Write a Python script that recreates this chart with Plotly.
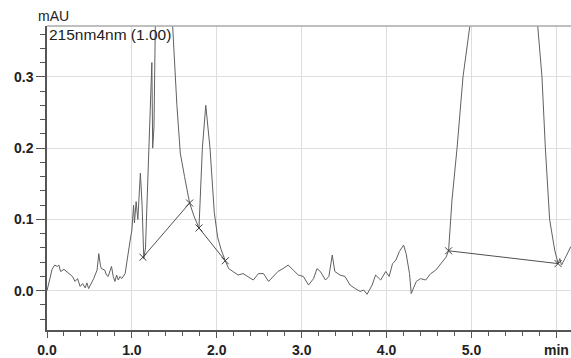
import plotly.graph_objects as go

# Chromatogram trace (minutes, mAU)
time_min = [
    0.00, 0.035, 0.06, 0.09, 0.12, 0.14, 0.16, 0.20, 0.24, 0.27, 0.30, 0.33, 0.36, 0.39,
    0.42, 0.45, 0.47, 0.49, 0.52, 0.55, 0.59, 0.61, 0.63, 0.64, 0.68, 0.70, 0.72, 0.74,
    0.76, 0.78, 0.80, 0.82, 0.84, 0.86, 0.88, 0.92, 0.94, 0.96, 0.98, 1.00, 1.02, 1.03,
    1.05, 1.07, 1.09, 1.10, 1.12, 1.14, 1.16, 1.20, 1.235, 1.245, 1.26, 1.29, 1.38, 1.46,
    1.48, 1.53, 1.57, 1.62, 1.68, 1.73, 1.79, 1.83, 1.87, 1.92, 1.97, 2.01, 2.05, 2.10,
    2.14, 2.19, 2.25, 2.31, 2.37, 2.43, 2.49, 2.55, 2.61, 2.67, 2.72, 2.78, 2.84, 2.90,
    2.96, 3.02, 3.08, 3.14, 3.18, 3.22, 3.28, 3.32, 3.36, 3.39, 3.45, 3.51, 3.57, 3.63,
    3.69, 3.73, 3.77, 3.83, 3.87, 3.93, 3.99, 4.03, 4.07, 4.11, 4.15, 4.20, 4.23, 4.27,
    4.29, 4.35, 4.40, 4.46, 4.52, 4.58, 4.64, 4.70, 4.73, 4.77, 4.83, 4.90, 4.98, 5.38,
    5.78, 5.83, 5.87, 5.92, 5.98, 6.02, 6.04, 6.06, 6.10, 6.14, 6.17,
]
absorbance = [
    0.000, 0.020, 0.030, 0.036, 0.034, 0.036, 0.027, 0.030, 0.026, 0.024, 0.020, 0.013, 0.017, 0.006,
    0.010, 0.004, 0.011, 0.003, 0.010, 0.017, 0.029, 0.052, 0.035, 0.031, 0.029, 0.022, 0.020, 0.028,
    0.034, 0.020, 0.013, 0.022, 0.015, 0.020, 0.017, 0.024, 0.041, 0.060, 0.071, 0.085, 0.120, 0.095,
    0.125, 0.100, 0.150, 0.165, 0.120, 0.045, 0.060, 0.200, 0.320, 0.200, 0.230, 0.500, 0.950, 0.500,
    0.371, 0.260, 0.193, 0.160, 0.123, 0.105, 0.088, 0.200, 0.260, 0.200, 0.110, 0.075, 0.058, 0.042,
    0.031, 0.027, 0.022, 0.024, 0.020, 0.015, 0.024, 0.024, 0.013, 0.020, 0.027, 0.031, 0.036, 0.029,
    0.022, 0.020, 0.008, 0.017, 0.031, 0.027, 0.015, 0.020, 0.050, 0.027, 0.022, 0.020, 0.008, 0.003,
    -0.001, 0.001, -0.005, 0.008, 0.022, 0.015, 0.027, 0.020, 0.038, 0.043, 0.055, 0.064, 0.052, 0.024,
    -0.004, 0.013, 0.017, 0.015, 0.024, 0.029, 0.038, 0.047, 0.056, 0.127, 0.200, 0.300, 0.371, 1.200,
    0.371, 0.300, 0.200, 0.100, 0.057, 0.038, 0.045, 0.036, 0.045, 0.055, 0.062,
]

# Integration baselines (start/end pairs)
baseline_start_t = [1.13, 1.79, 4.73]
baseline_start_a = [0.047, 0.088, 0.056]
baseline_end_t = [1.68, 2.10, 6.02]
baseline_end_a = [0.123, 0.042, 0.038]

x_tick_vals = [0, 1, 2, 3, 4, 5, 6]
x_tick_text = ["0.0", "1.0", "2.0", "3.0", "4.0", "5.0", "min"]
y_tick_vals = [0.0, 0.1, 0.2, 0.3]
y_tick_text = ["0.0", "0.1", "0.2", "0.3"]

y_unit = "mAU"
channel_label = "215nm4nm (1.00)"

bx, by = [], []
for t0, a0, t1, a1 in zip(baseline_start_t, baseline_start_a, baseline_end_t, baseline_end_a):
    bx += [t0, t1, None]
    by += [a0, a1, None]

FONT = "Liberation Sans, Arial, sans-serif"

fig = go.Figure()
fig.add_trace(go.Scatter(x=time_min, y=absorbance, mode="lines",
                         line=dict(color="#606060", width=1), hoverinfo="skip"))
fig.add_trace(go.Scatter(x=bx, y=by, mode="lines+markers",
                         line=dict(color="#505050", width=1),
                         marker=dict(symbol="x-thin", size=7, line=dict(width=1, color="#404040")),
                         hoverinfo="skip"))

axis_common = dict(showline=True, linecolor="#555", linewidth=1.5, ticks="outside",
                   tickwidth=1, tickcolor="#555", showgrid=True,
                   gridcolor="#dedede", gridwidth=1, zeroline=False, automargin=False,
                   tickfont=dict(family=FONT, size=14, color="#222", weight="bold"))

fig.update_xaxes(range=[0, 6.172], tickvals=x_tick_vals, ticktext=x_tick_text, ticklen=6,
                 minor=dict(dtick=0.2, tick0=0, ticks="outside", ticklen=4, tickcolor="#555", showgrid=False),
                 **axis_common)
fig.update_yaxes(range=[-0.0551, 0.3713], tickvals=y_tick_vals, ticktext=y_tick_text, ticklen=9,
                 minor=dict(dtick=0.02, tick0=0, ticks="outside", ticklen=5, tickcolor="#555", showgrid=False),
                 **axis_common)

fig.add_shape(type="line", xref="paper", yref="paper", x0=0, x1=1, y0=1, y1=1,
              line=dict(color="#aaaaaa", width=1.5))

fig.add_annotation(text=y_unit, xref="paper", yref="paper", x=-0.021, y=1.0, yshift=0,
                   xanchor="left", yanchor="bottom", showarrow=False,
                   font=dict(family=FONT, size=14, color="#222"))
fig.add_annotation(text=channel_label, xref="paper", yref="paper", x=0.0, y=1.0, yshift=2,
                   xanchor="left", yanchor="top", showarrow=False,
                   font=dict(family=FONT, size=15.5, color="#222"))

fig.update_layout(width=571, height=358, margin=dict(l=47, r=0, t=26, b=28),
                  paper_bgcolor="white", plot_bgcolor="white", showlegend=False)

fig.write_html("out.html")
